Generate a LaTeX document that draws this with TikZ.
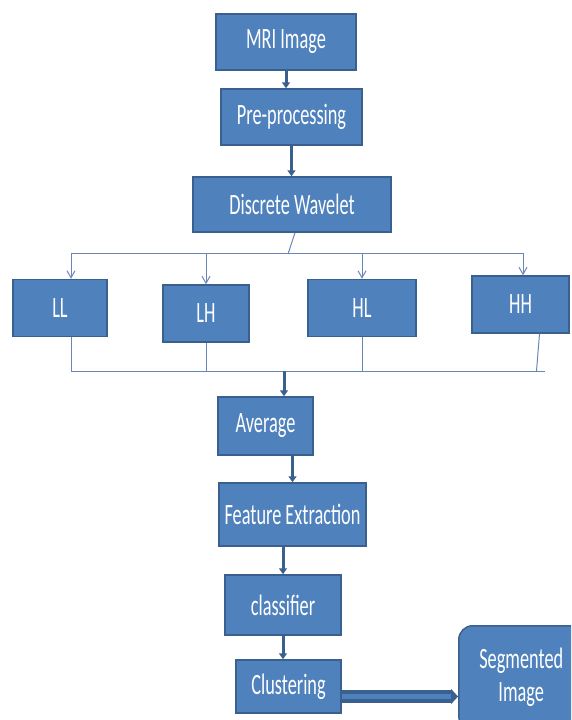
\documentclass[tikz,border=0pt]{standalone}
\usepackage{fontspec}
\setmainfont{Carlito}[FakeStretch=0.62]
\usetikzlibrary{arrows.meta}

\definecolor{boxfill}{HTML}{4F81BD}
\definecolor{boxline}{HTML}{3A6090}
\definecolor{wirecol}{HTML}{6A86B8}

\begin{document}
\begin{tikzpicture}[x=1pt, y=-1pt,
  box/.style={draw=boxline, line width=1.5pt, fill=boxfill, text=white,
    inner sep=0pt, align=center, font=\fontsize{29.5}{33}\selectfont},
  flow/.style={draw=boxline, line width=3pt, -{Triangle[length=6pt,width=8pt]}},
  wire/.style={draw=wirecol, line width=1pt},
  fan/.style={wire, -{Straight Barb[length=7pt,width=8pt]}}]

\useasboundingbox (0,0) rectangle (571,720);
\clip (0,0) rectangle (571,720);

% main column
\foreach \n/\x/\y/\w/\h/\t in {mri/286/42/140/56/MRI Image,
    pre/291.5/117/141/56/Pre-processing,
    dwt/292/204.5/198/55/Discrete Wavelet,
    avg/265.5/426/95/58/Average,
    feat/292.5/514.5/147/63/Feature Extraction,
    cls/283/605/116/60/classifier,
    clu/288.5/686.5/105/53/Clustering}
  \node [box, minimum width=\w, minimum height=\h] (\n) at (\x,\y) {\t};

% sub-bands
\foreach \n/\x/\y/\w/\t in {ll/60/308/94/LL, lh/206/313.5/86/LH,
    hl/362/308/108/HL, hh/520.5/304.5/97/HH}
  \node [box, minimum width=\w, minimum height=57] (\n) at (\x,\y) {\t};

\node [box, rounded corners=14pt, anchor=north west, minimum width=125,
  minimum height=104] (seg) at (458,625) {Segmented\\Image};

\coordinate (split) at (288,254);
\coordinate (fanL) at (71,253);
\coordinate (fanR) at (523,253);
\coordinate (joinL) at (71,371);
\coordinate (joinR) at (545,371);
\coordinate (join) at (284,371);

\draw [flow] (mri.south) -- (mri.south |- pre.north);
\draw [flow] (pre.south) -- (pre.south |- dwt.north);

\draw [wire] ([xshift=3pt]dwt.south) -- (split);
\draw [wire] (fanL) -- (fanR);
\draw [fan] (fanL) -- (fanL |- ll.north);
\foreach \n in {lh,hl}
  \draw [fan] (\n.north |- fanL) -- (\n.north);
\draw [fan] (fanR) -- (fanR |- hh.north);

\draw [wire] (ll.south -| joinL) -- (joinL) -- (joinR);
\foreach \n in {lh,hl}
  \draw [wire] (\n.south) -- (\n.south |- joinL);
\draw [wire] ([xshift=19pt]hh.south) -- ([xshift=16pt]hh.south |- joinL);

\draw [flow] (join) -- (join |- avg.north);
\draw [flow] (feat.north |- avg.south) -- (feat.north);
\draw [flow] (cls.north |- feat.south) -- (cls.north);
\draw [flow] (cls.south) -- (cls.south |- clu.north);

\draw [draw=boxline, line width=4pt, double=boxfill, double distance=5pt,
  -{Triangle[length=7pt,width=15pt]}] ([yshift=-10pt]clu.east) -- ([yshift=-10pt]clu.east -| seg.west);

\end{tikzpicture}
\end{document}
